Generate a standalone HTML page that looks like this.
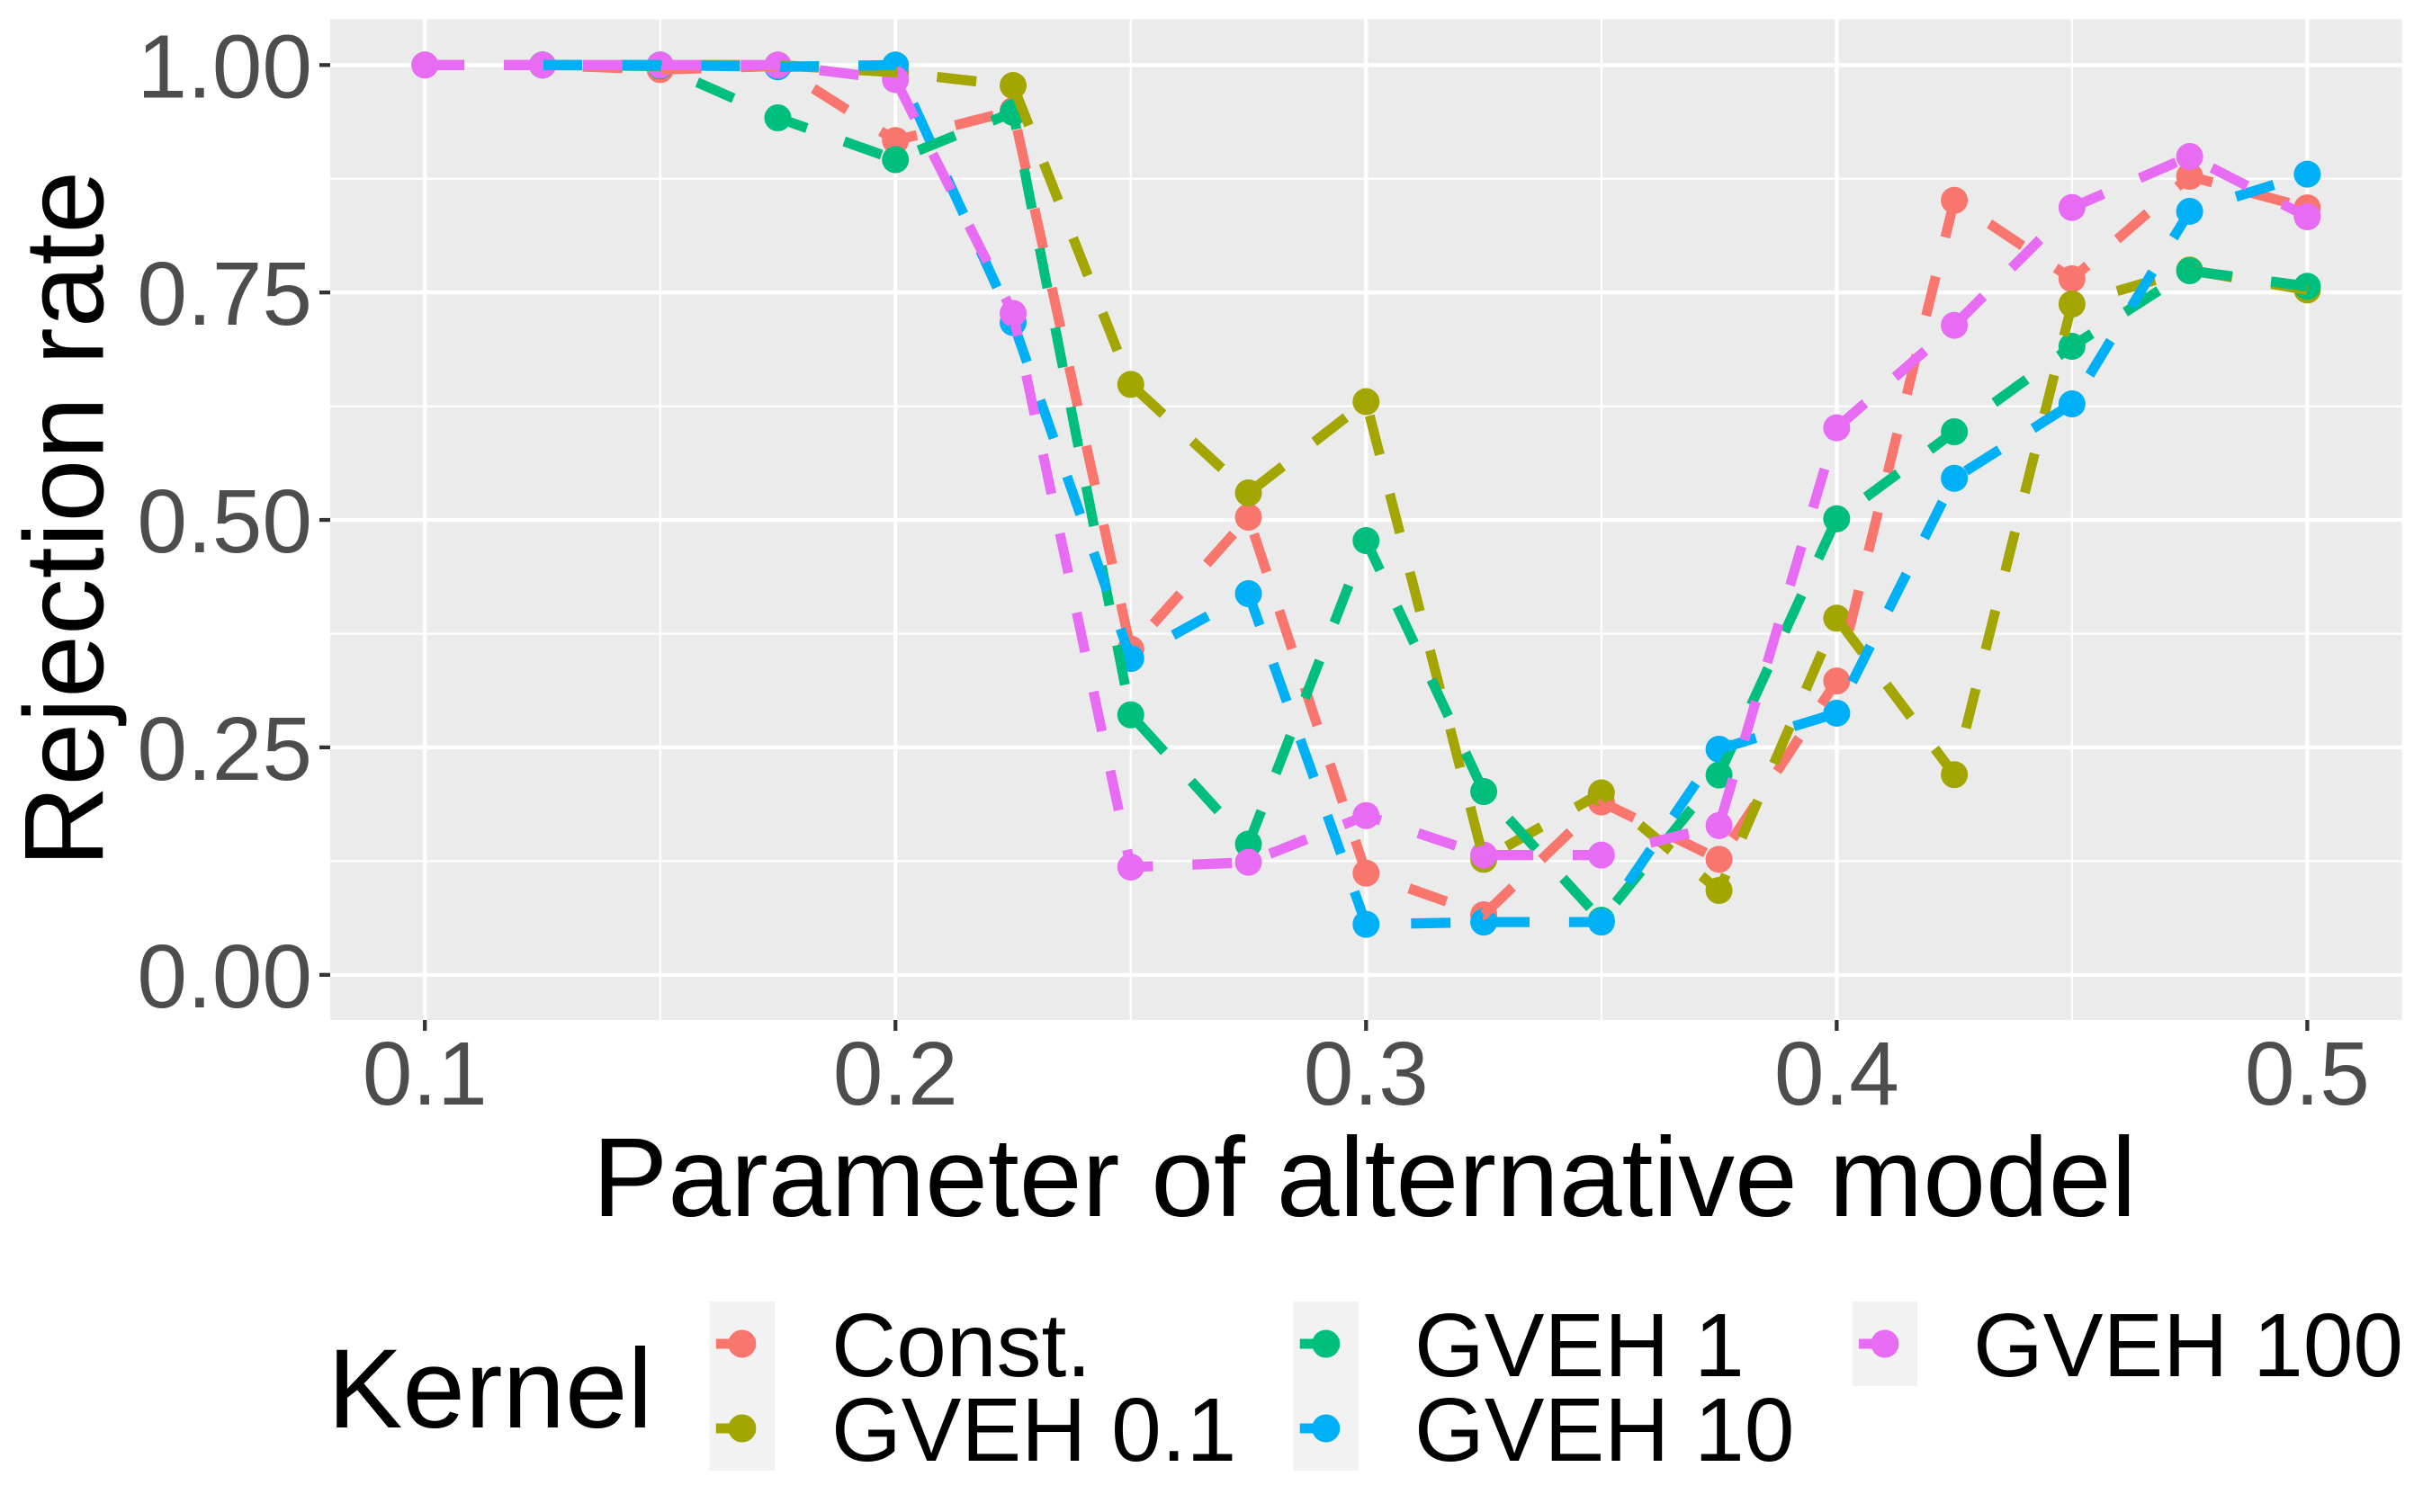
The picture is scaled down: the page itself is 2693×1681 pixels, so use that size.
<!DOCTYPE html>
<html>
<head>
<meta charset="utf-8">
<title>Rejection rate chart</title>
<style>
html,body{margin:0;padding:0;background:#fff;}
svg{display:block;}
text{font-family:"Liberation Sans",sans-serif;font-kerning:none;}
</style>
</head>
<body>
<svg id="chart" xmlns="http://www.w3.org/2000/svg" width="2693" height="1681" viewBox="0 0 2693 1681">
  <rect x="0" y="0" width="2693" height="1681" fill="#ffffff"/>
  <rect x="367" y="21.5" width="2302.6" height="1112.5" fill="#EBEBEB"/>
  <g id="grid"></g>
  <g id="axes"></g>
  <g id="points"></g>
  <g id="lines"></g>
  <text x="1516.5" y="1352" font-size="125.5" text-anchor="middle" fill="#000">Parameter of alternative model</text>
  <text transform="translate(114.5,577) rotate(-90)" font-size="125.5" text-anchor="middle" fill="#000">Rejection rate</text>
  <text x="364" y="1587" font-size="125" fill="#000">Kernel</text>
  <g id="legend"></g>
</svg>
<script>
var xValues = [0.1, 0.125, 0.15, 0.175, 0.2, 0.225, 0.25, 0.275, 0.3, 0.325, 0.35, 0.375, 0.4, 0.425, 0.45, 0.475, 0.5];
var constValues = [1, 1, 0.995, 0.999, 0.917, 0.95, 0.358, 0.503, 0.1118, 0.066, 0.19, 0.127, 0.323, 0.8513, 0.765, 0.8777, 0.843];
var gveh01Values = [null, 1, 1, 1, 0.992, 0.9775, 0.649, 0.5297, 0.63, 0.127, 0.2, 0.0927, 0.392, 0.22, 0.7373, 0.7746, 0.7528];
var gveh1Values = [null, 1, 0.999, 0.942, 0.896, 0.948, 0.2858, 0.1438, 0.4773, 0.2015, 0.06, 0.2196, 0.5013, 0.5969, 0.6908, 0.7739, 0.7568];
var gveh10Values = [null, 1, 1, 0.998, 1, 0.717, 0.3477, 0.419, 0.0555, 0.058, 0.058, 0.248, 0.2876, 0.5458, 0.6276, 0.8392, 0.88];
var gveh100Values = [1, 1, 1, 1, 0.984, 0.727, 0.1184, 0.1237, 0.175, 0.1316, 0.1316, 0.164, 0.6012, 0.7139, 0.8434, 0.8995, 0.8332];
var seriesNames = ["Const.", "GVEH 0.1", "GVEH 1", "GVEH 10", "GVEH 100"];
var seriesColors = ["#F8766D", "#A3A500", "#00BF7D", "#00B0F6", "#E76BF3"];
var seriesValues = [constValues, gveh01Values, gveh1Values, gveh10Values, gveh100Values];
var xTicks = [0.1, 0.2, 0.3, 0.4, 0.5];
var xTickLabels = ["0.1", "0.2", "0.3", "0.4", "0.5"];
var xMinorTicks = [0.15, 0.25, 0.35, 0.45];
var yTicks = [0, 0.25, 0.5, 0.75, 1];
var yTickLabels = ["0.00", "0.25", "0.50", "0.75", "1.00"];
var yMinorTicks = [0.125, 0.375, 0.625, 0.875];

var NS = "http://www.w3.org/2000/svg";
var panelLeft = 367, panelRight = 2669.6, panelTop = 21.5, panelBottom = 1134;
var dashStretch = 1.025;
function xScale(v) { return 472.2 + (v - 0.1) * 5230.5; }
function yScale(v) { return 1083.8 - v * 1011.5; }
function make(tag, parent) {
  var el = document.createElementNS(NS, tag);
  parent.appendChild(el);
  return el;
}
function slug(s) { return s.toLowerCase().replace(/[^a-z0-9]+/g, "-").replace(/-$/, ""); }

var grid = document.getElementById("grid");
var axes = document.getElementById("axes");
var pointsLayer = document.getElementById("points");
var linesLayer = document.getElementById("lines");
var legend = document.getElementById("legend");

function drawSegment(parent, x1, y1, x2, y2, color, width) {
  var l = make("line", parent);
  l.setAttribute("x1", x1);
  l.setAttribute("y1", y1);
  l.setAttribute("x2", x2);
  l.setAttribute("y2", y2);
  l.setAttribute("stroke", color);
  l.setAttribute("stroke-width", width);
  return l;
}

yMinorTicks.forEach(function (v) {
  var l = drawSegment(grid, panelLeft, yScale(v), panelRight, yScale(v), "#fff", 2.2);
  
  
});
xMinorTicks.forEach(function (v) {
  var l = drawSegment(grid, xScale(v), panelTop, xScale(v), panelBottom, "#fff", 2.2);
  
  
});
yTicks.forEach(function (v, i) {
  var g = drawSegment(grid, panelLeft, yScale(v), panelRight, yScale(v), "#fff", 4.3);
  
  
  var t = drawSegment(axes, 355, yScale(v), panelLeft, yScale(v), "#333333", 4.3);
  
  
  var label = make("text", axes);
  
  
  label.setAttribute("x", 347);
  label.setAttribute("y", yScale(v) + 36);
  label.setAttribute("font-size", 100);
  label.setAttribute("text-anchor", "end");
  label.setAttribute("fill", "#4D4D4D");
  label.textContent = yTickLabels[i];
});
xTicks.forEach(function (v, i) {
  var g = drawSegment(grid, xScale(v), panelTop, xScale(v), panelBottom, "#fff", 4.3);
  
  
  var t = drawSegment(axes, xScale(v), panelBottom, xScale(v), panelBottom + 12, "#333333", 4.3);
  
  
  var label = make("text", axes);
  
  
  label.setAttribute("x", xScale(v));
  label.setAttribute("y", 1228);
  label.setAttribute("font-size", 100);
  label.setAttribute("text-anchor", "middle");
  label.setAttribute("fill", "#4D4D4D");
  label.textContent = xTickLabels[i];
});

seriesValues.forEach(function (vals, s) {
  var d = "";
  vals.forEach(function (v, i) {
    if (v === null) return;
    var c = make("circle", pointsLayer);
    
    
    c.setAttribute("cx", xScale(xValues[i]));
    c.setAttribute("cy", yScale(v));
    c.setAttribute("r", 15);
    c.setAttribute("fill", seriesColors[s]);
    d += (d ? "L" : "M") + xScale(xValues[i]).toFixed(2) + " " + (yScale(v) / dashStretch).toFixed(2);
  });
  var p = make("path", linesLayer);
  
  
  p.setAttribute("d", d);
  p.setAttribute("transform", "scale(1," + dashStretch + ")");
  p.setAttribute("fill", "none");
  p.setAttribute("stroke", seriesColors[s]);
  p.setAttribute("stroke-width", 11);
  p.setAttribute("stroke-dasharray", "43.9 43.9");
  p.setAttribute("stroke-linejoin", "round");
});

var legendKeyX = [788.6, 788.6, 1437.5, 1437.5, 2058.7];
var legendKeyY = [1447, 1541, 1447, 1541, 1447];
var legendTextX = [924, 924, 1572, 1572, 2193];
seriesNames.forEach(function (name, i) {
  var k = make("rect", legend);
  
  
  k.setAttribute("x", legendKeyX[i]);
  k.setAttribute("y", legendKeyY[i]);
  k.setAttribute("width", 72.4);
  k.setAttribute("height", 94);
  k.setAttribute("fill", "#F2F2F2");
  var cx = legendKeyX[i] + 36.2, cy = legendKeyY[i] + 47;
  var c = make("circle", legend);
  
  
  c.setAttribute("cx", cx);
  c.setAttribute("cy", cy);
  c.setAttribute("r", 15.5);
  c.setAttribute("fill", seriesColors[i]);
  var l = drawSegment(legend, cx - 29, cy, cx + 15, cy, seriesColors[i], 11);
  
  
  var t = make("text", legend);
  
  
  t.setAttribute("x", legendTextX[i]);
  t.setAttribute("y", legendKeyY[i] + 83);
  t.setAttribute("font-size", 100);
  t.setAttribute("fill", "#000");
  t.textContent = name;
});
</script>
</body>
</html>
